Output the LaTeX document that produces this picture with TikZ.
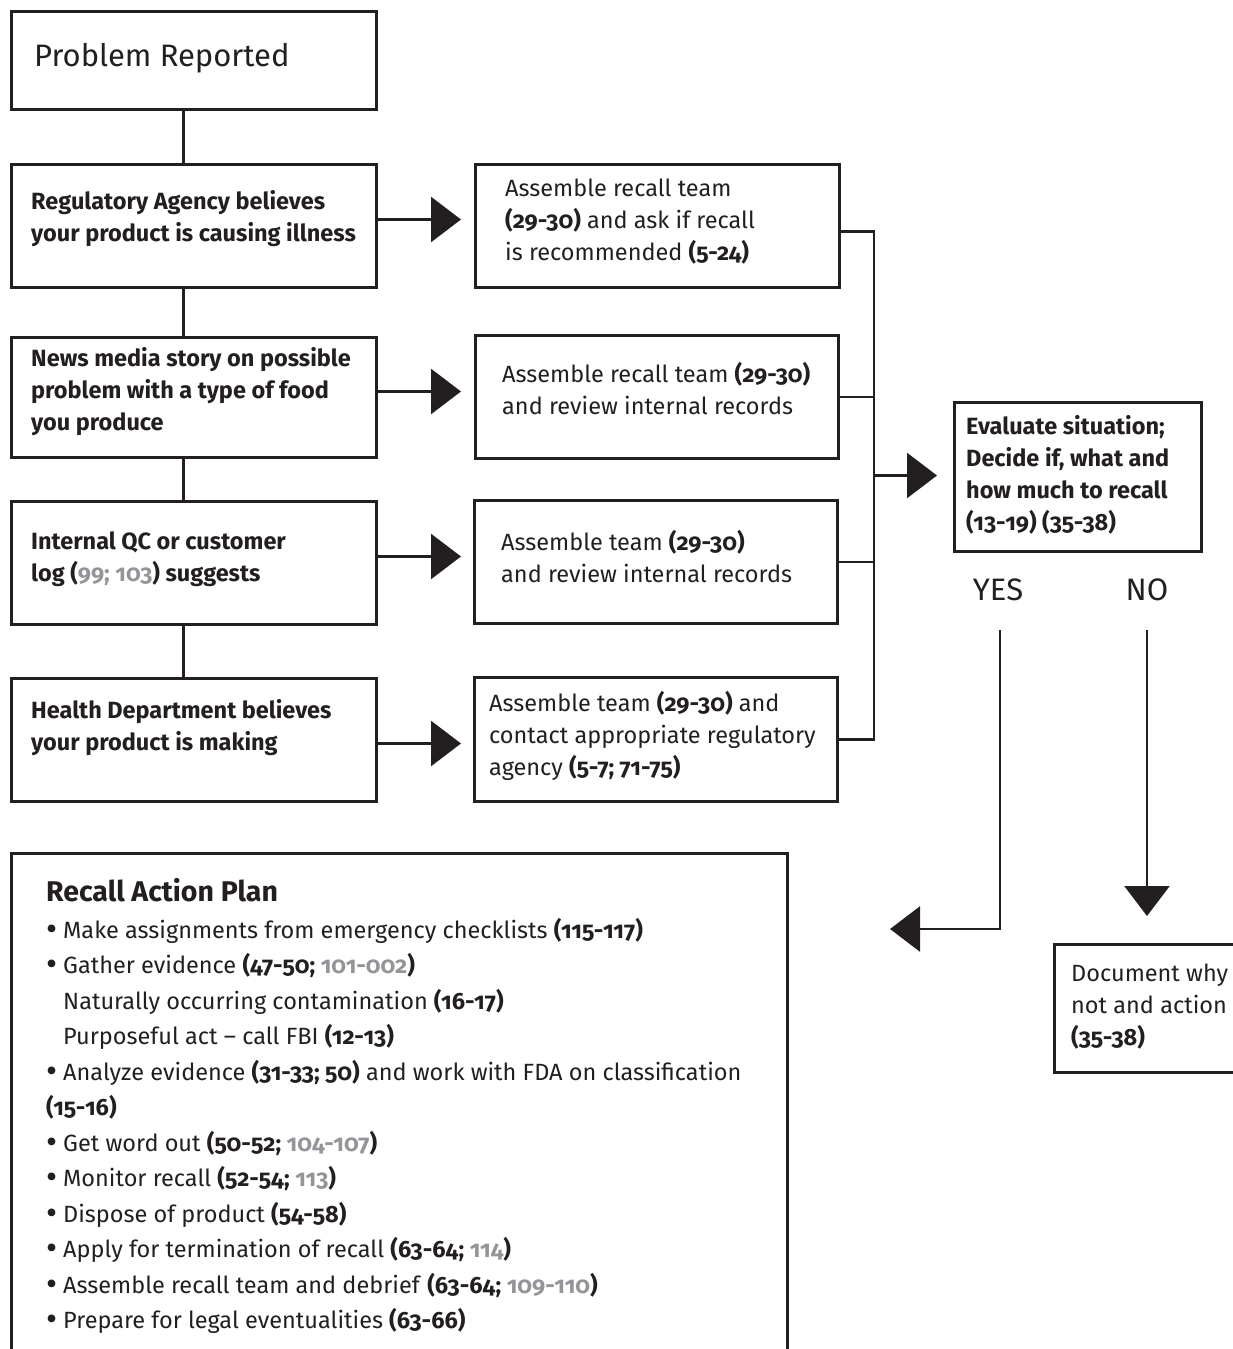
\documentclass[tikz,border=0pt]{standalone}
\usepackage{fontspec}
\setmainfont{Fira Sans}[Numbers=OldStyle]
\usetikzlibrary{arrows.meta,calc}
\definecolor{ink}{HTML}{231F20}
\definecolor{refgray}{HTML}{939598}
\newcommand\gr[1]{\textcolor{refgray}{#1}}
\newcommand\bx[1]{\textbf{#1}}
\newcommand\bul{\makebox[17pt][l]{\smash{\fontsize{34}{30}\selectfont\raisebox{-0.06em}{•}}}}
\begin{document}
\begin{tikzpicture}[x=1pt,y=-1pt,
  boxshape/.style={draw=ink, line width=3pt, anchor=north west, inner sep=0pt},
  txt/.style={anchor=west, align=left, inner sep=0pt, text=ink, font=\fontsize{23.5}{32}\selectfont},
  conn/.style={draw=ink, line width=2.5pt},
  arr/.style={conn, -{Triangle[length=30pt,width=45pt]}},
  yn/.style={inner sep=0pt, text=ink, font=\fontsize{31}{36}\selectfont}]
\clip (0,0) rectangle (1233,1349);
\fill[white] (0,0) rectangle (1233,1349);
% left column
\node[boxshape, minimum width=365pt, minimum height=98pt] (pr) at (10,10) {};
\node[txt, font=\fontsize{31}{36}\selectfont] (prt) at (34,58) {Problem Reported};
\node[boxshape, minimum width=365pt, minimum height=123pt] (r1) at (10,163) {};
\node[txt] (r1t) at (31,219) {\bx{Regulatory Agency believes}\\\bx{your product is causing illness}};
\node[boxshape, minimum width=365pt, minimum height=120pt] (r2) at (10,336) {};
\node[txt] (r2t) at (31,392) {\bx{News media story on possible}\\\bx{problem with a type of food}\\\bx{you produce}};
\node[boxshape, minimum width=365pt, minimum height=123pt] (r3) at (10,500) {};
\node[txt] (r3t) at (31,559) {\bx{Internal QC or customer}\\\bx{log (\gr{99; 103}) suggests}};
\node[boxshape, minimum width=365pt, minimum height=123pt] (r4) at (10,677) {};
\node[txt] (r4t) at (31,728) {\bx{Health Department believes}\\\bx{your product is making}};
% right column
\node[boxshape, minimum width=364pt, minimum height=123pt] (a1) at (474,163) {};
\node[txt] (a1t) at (505,222) {Assemble recall team\\\bx{(29-30)} and ask if recall\\is recommended \bx{(5-24)}};
\node[boxshape, minimum width=363pt, minimum height=123pt] (a2) at (474,334) {};
\node[txt] (a2t) at (502,389) {Assemble recall team \bx{(29-30)}\\and review internal records};
\node[boxshape, minimum width=363pt, minimum height=123pt] (a3) at (473,499) {};
\node[txt] (a3t) at (501,557) {Assemble team \bx{(29-30)}\\and review internal records};
\node[boxshape, minimum width=363pt, minimum height=124pt] (a4) at (473,676) {};
\node[txt] (a4t) at (489,736) {Assemble team \bx{(29-30)} and\\contact appropriate regulatory\\agency \bx{(5-7; 71-75)}};
% evaluate
\node[boxshape, minimum width=247pt, minimum height=149pt] (ev) at (953,401) {};
\node[txt] (evt) at (966,475) {\bx{Evaluate situation;}\\\bx{Decide if, what and}\\\bx{how much to recall}\\\bx{(13-19) (35-38)}};
\node[yn] (yes) at (998,590) {YES};
\node[yn] (no) at (1147,590) {NO};
\node[boxshape, minimum width=200pt, minimum height=128pt] (doc) at (1053,943) {};
\node[txt] (doct) at (1071,1007) {Document why\\not and action\\\bx{(35-38)}};
% plan
\node[boxshape, minimum width=776pt, minimum height=540pt] (plan) at (10,852) {};
\node[txt, font=\fontsize{28.5}{32}\selectfont\bfseries] (plantitle) at (46,890) {Recall Action Plan};
\node[txt, font=\fontsize{23.5}{35.5}\selectfont, anchor=north west] (planlist) at (46,918) {%
\bul Make assignments from emergency checklists \bx{(115-117)}\\
\bul Gather evidence \bx{(47-50; \gr{101-002})}\\
\hspace*{17pt}Naturally occurring contamination \bx{(16-17)}\\
\hspace*{17pt}Purposeful act -- call FBI \bx{(12-13)}\\
\bul Analyze evidence \bx{(31-33; 50)} and work with FDA on classification\\
\bx{(15-16)}\\
\bul Get word out \bx{(50-52; \gr{104-107})}\\
\bul Monitor recall \bx{(52-54; \gr{113})}\\
\bul Dispose of product \bx{(54-58)}\\
\bul Apply for termination of recall \bx{(63-64; \gr{114})}\\
\bul Assemble recall team and debrief \bx{(63-64; \gr{109-110})}\\
\bul Prepare for legal eventualities \bx{(63-66)}};
% vertical chain
\draw[conn] ([xshift=-10.5pt]pr.south) -- ([xshift=-10.5pt]r1.north);
\draw[conn] ([xshift=-10.5pt]r1.south) -- ([xshift=-10.5pt]r2.north);
\draw[conn] ([xshift=-10.5pt]r2.south) -- ([xshift=-10.5pt]r3.north);
\draw[conn] ([xshift=-10.5pt]r3.south) -- ([xshift=-10.5pt]r4.north);
% arrows left to right
\coordinate (s1) at ([yshift=6.5pt]r1.east);
\coordinate (s2) at ([yshift=6pt]r2.east);
\coordinate (s3) at ([yshift=6.5pt]r3.east);
\coordinate (s4) at ([yshift=-3.5pt]r4.east);
\draw[arr, shorten >=13pt] (s1) -- (s1 -| a1.west);
\draw[arr, shorten >=13pt] (s2) -- (s2 -| a2.west);
\draw[arr, shorten >=12pt] (s3) -- (s3 -| a3.west);
\draw[arr, shorten >=12pt] (s4) -- (s4 -| a4.west);
% bus
\coordinate (bus) at ([xshift=33pt,yshift=-5.5pt]a1.east);
\draw[conn] ([yshift=-5.5pt]a1.east) -- (bus) |- (a4.east);
\draw[conn] (a2.east) -- (a2.east -| bus);
\draw[conn] (a3.east) -- (a3.east -| bus);
\draw[arr, shorten >=16pt] ([yshift=1.5pt]ev.west -| bus) -- ([yshift=1.5pt]ev.west);
% yes / no
\coordinate (ytip) at (890,929);
\draw[arr] ([xshift=2pt,yshift=-29pt]yes.south) |- (ytip);
\draw[arr, shorten >=27pt] ([yshift=-29pt]no.south) -- (no.south |- doc.north);
\end{tikzpicture}
\end{document}
